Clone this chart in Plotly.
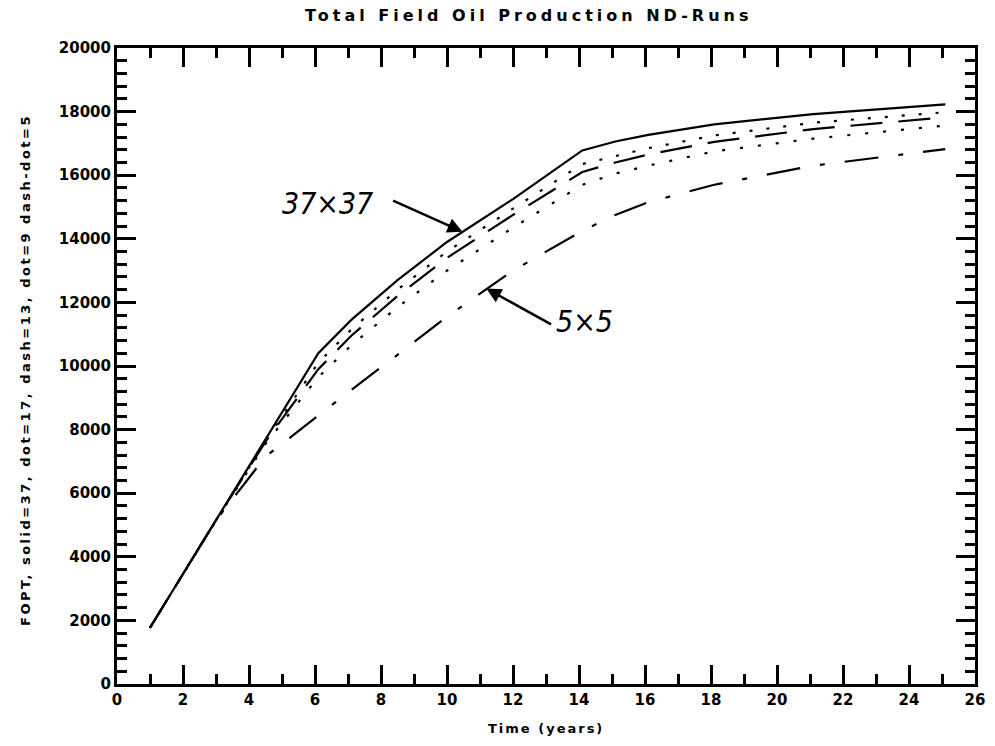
import plotly.graph_objects as go

# Report times (years) shared by all runs
time = [1, 3, 4.5, 6.1, 7.1, 8.5, 10, 12, 14.1, 15.1, 16.1, 18.1, 21.1, 25.1]

# Field oil production total for each grid resolution
fopt_37 = [1770, 5150, 7700, 10400, 11450, 12700, 13900, 15250, 16780, 17060, 17270, 17600, 17920, 18230]
fopt_17 = [1770, 5150, 7650, 10100, 11150, 12400, 13600, 14950, 16350, 16600, 16850, 17250, 17650, 17980]
fopt_13 = [1770, 5150, 7620, 9900, 10950, 12200, 13400, 14750, 16100, 16400, 16650, 17050, 17450, 17820]
fopt_9 = [1770, 5150, 7550, 9650, 10650, 11850, 13000, 14350, 15700, 16050, 16300, 16750, 17150, 17560]
fopt_5 = [1770, 5150, 7150, 8450, 9250, 10350, 11550, 13000, 14250, 14750, 15150, 15700, 16300, 16820]

x_ticks = list(range(0, 27, 2))
y_ticks = list(range(0, 20001, 2000))

series = [
    ("solid=37", fopt_37, "solid"),
    ("dot=17", fopt_17, "3px,14px"),
    ("dash=13", fopt_13, "32px,16px"),
    ("dot=9", fopt_9, "3px,15px"),
    ("dash-dot=5", fopt_5, "34px,20px,5px,20px"),
]

fig = go.Figure()
for name, vals, dash in series:
    fig.add_trace(go.Scatter(
        x=time, y=vals, mode="lines", name=name,
        line=dict(color="black", width=2.2, dash=dash),
        showlegend=False,
    ))

tick_font = dict(family="DejaVu Sans", size=15, color="black", weight="bold")

axis_common = dict(
    showgrid=False, zeroline=False,
    showline=True, linecolor="black", linewidth=3,
    mirror="ticks", ticks="inside", ticklen=19, tickwidth=2.5, tickcolor="black",
    tickfont=tick_font,
)

fig.update_xaxes(
    range=[0, 26], tickvals=x_ticks, ticktext=[str(v) for v in x_ticks],
    minor=dict(dtick=1, ticks="inside", ticklen=10, tickwidth=2.5, tickcolor="black"),
    **axis_common,
)
fig.update_yaxes(
    range=[0, 20000], tickvals=y_ticks, ticktext=[str(v) for v in y_ticks],
    minor=dict(dtick=400, ticks="inside", ticklen=10, tickwidth=2.5, tickcolor="black"),
    **axis_common,
)

label_font = dict(family="DejaVu Sans", size=13, color="black", weight="bold")
hand_font = dict(family="DejaVu Sans Condensed, DejaVu Sans", size=30, color="black")

fig.update_layout(
    width=995, height=746,
    margin=dict(l=117, r=10, t=48, b=62),
    paper_bgcolor="white", plot_bgcolor="white",
    annotations=[
        dict(text='<span style="letter-spacing:4px">Total Field Oil Production ND-Runs</span>',
             xref="paper", yref="paper", x=0.2166, y=1, xanchor="left", yanchor="middle",
             yshift=33, showarrow=False,
             font=dict(family="DejaVu Sans", size=16, color="black", weight="bold")),
        dict(text='<span style="letter-spacing:2px">Time (years)</span>',
             xref="paper", yref="paper", x=0.5, y=0, yanchor="middle", yshift=-44,
             showarrow=False, font=label_font),
        dict(text='<span style="letter-spacing:2.5px">FOPT, solid=37, dot=17, dash=13, dot=9 dash-dot=5</span>',
             xref="paper", yref="paper", x=0, y=0.5, xanchor="center", yanchor="middle",
             xshift=-92, yshift=-4, textangle=-90,
             showarrow=False, font=label_font),
        dict(text="<i>37×37</i>", x=6.37, y=15125, xref="x", yref="y",
             showarrow=False, font=hand_font),
        dict(text="", x=10.47, y=14220, ax=8.32, ay=15220, xref="x", yref="y",
             axref="x", ayref="y", showarrow=True, arrowhead=2, arrowsize=1.2,
             arrowwidth=2.5, arrowcolor="black"),
        dict(text="<i>5×5</i>", x=14.17, y=11400, xref="x", yref="y",
             showarrow=False, font=hand_font),
        dict(text="", x=11.19, y=12440, ax=13.2, ay=11280, xref="x", yref="y",
             axref="x", ayref="y", showarrow=True, arrowhead=2, arrowsize=1.2,
             arrowwidth=2.5, arrowcolor="black"),
    ],
)

fig.write_html("out.html")
